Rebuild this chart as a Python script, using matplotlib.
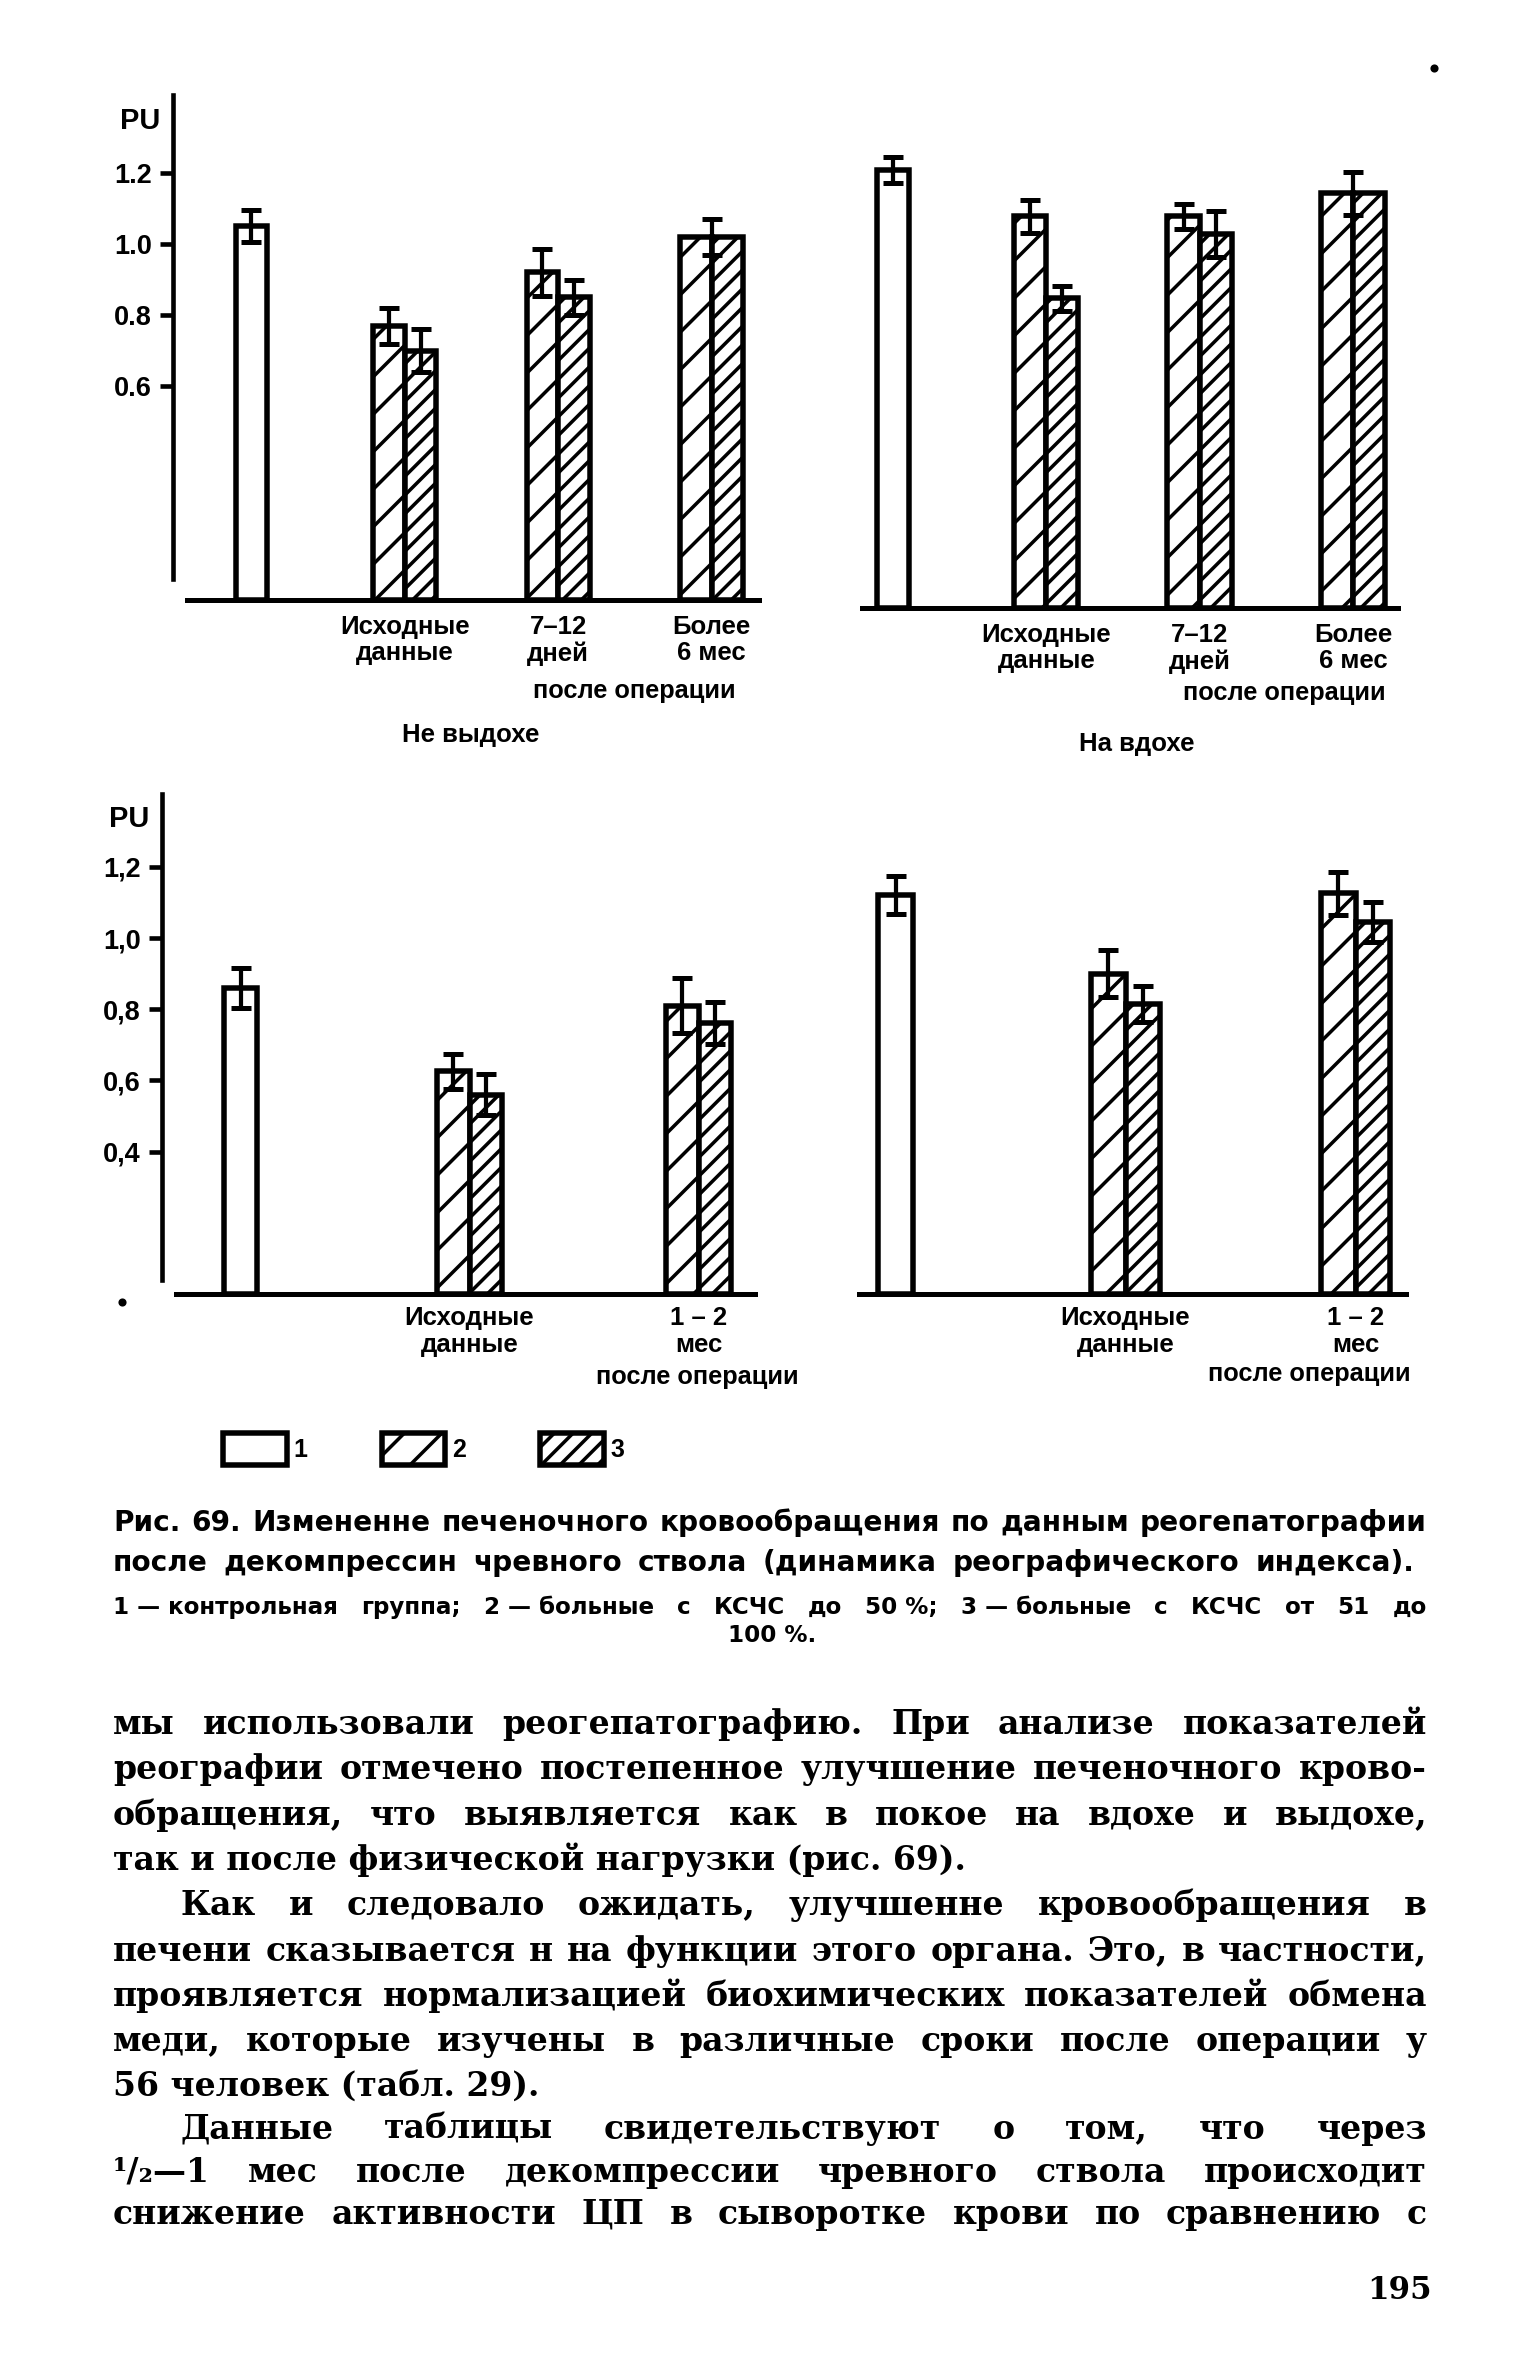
import numpy as np
import matplotlib
matplotlib.use("Agg")
import matplotlib.pyplot as plt

# page size in pixels; at dpi 225 "//" and "////" give the print's hatch spacing
W, H = 1530, 2354
DPI = 225

# ---- values (PU) ----
cat_long = ["Исходные\nданные", "7–12\nдней", "Более\n6 мес"]
cat_short = ["Исходные\nданные", "1 – 2\nмес"]
legend_labels = ["1", "2", "3"]

yticks_top = [0.6, 0.8, 1.0, 1.2]
ylabels_top = ["0.6", "0.8", "1.0", "1.2"]
yticks_bottom = [0.4, 0.6, 0.8, 1.0, 1.2]
ylabels_bottom = ["0,4", "0,6", "0,8", "1,0", "1,2"]

# top left, "Не выдохе"
exh_ctrl = [1.05]
exh_ctrl_err = [0.045]
exh_g2 = [0.77, 0.92, 1.02]
exh_g2_err = [0.05, 0.065, 0.05]
exh_g3 = [0.70, 0.85, 1.02]
exh_g3_err = [0.06, 0.05, np.nan]  # nan -> the pair shares one error bar

# top right, "На вдохе"
inh_ctrl = [1.23]
inh_ctrl_err = [0.037]
inh_g2 = [1.10, 1.10, 1.165]
inh_g2_err = [0.047, 0.035, 0.06]
inh_g3 = [0.87, 1.05, 1.165]
inh_g3_err = [0.035, 0.065, np.nan]

# bottom left
bl_ctrl = [0.86]
bl_ctrl_err = [0.057]
bl_g2 = [0.625, 0.81]
bl_g2_err = [0.05, 0.078]
bl_g3 = [0.56, 0.76]
bl_g3_err = [0.058, 0.059]

# bottom right
br_ctrl = [1.12]
br_ctrl_err = [0.053]
br_g2 = [0.90, 1.125]
br_g2_err = [0.065, 0.06]
br_g3 = [0.815, 1.045]
br_g3_err = [0.05, 0.055]

caption_lines = [
    "Рис. 69. Измененне печеночного кровообращения по данным реогепатографии",
    "после декомпрессин чревного ствола (динамика реографического индекса).",
]
note_lines = [
    "1\u00a0—\u00a0контрольная группа; 2\u00a0—\u00a0больные с КСЧС до 50\u00a0%; "
    "3\u00a0—\u00a0больные с КСЧС от 51 до",
    "100 %.",
]
# (text, indented, justified)
body_lines = [
    ("мы использовали реогепатографию. При анализе показателей", False, True),
    ("реографии отмечено постепенное улучшение печеночного крово-", False, True),
    ("обращения, что выявляется как в покое на вдохе и выдохе,", False, True),
    ("так и после физической нагрузки (рис. 69).", False, False),
    ("Как и следовало ожидать, улучшенне кровообращения в", True, True),
    ("печени сказывается н на функции этого органа. Это, в частности,", False, True),
    ("проявляется нормализацией биохимических показателей обмена", False, True),
    ("меди, которые изучены в различные сроки после операции у", False, True),
    ("56 человек (табл. 29).", False, False),
    ("Данные таблицы свидетельствуют о том, что через", True, True),
    ("¹/₂—1 мес после декомпрессии чревного ствола происходит", False, True),
    ("снижение активности ЦП в сыворотке крови по сравнению с", False, True),
]
page_number = "195"


def pt(px):
    # sizes below are thought of in output pixels
    return px * 72.0 / DPI


plt.rcParams["font.family"] = ["Liberation Sans", "DejaVu Sans"]
plt.rcParams["font.weight"] = "bold"
plt.rcParams["hatch.linewidth"] = pt(3.5)
plt.rcParams["hatch.color"] = "black"

SANS = ["DejaVu Sans"]
SERIF = ["DejaVu Serif", "Liberation Serif"]
UNIT_Y = 356.0  # px per 1.0 PU
LW = pt(5.5)

fig = plt.figure(figsize=(W / DPI, (H + 0.01) / DPI), dpi=DPI, facecolor="white")


def fx(x):
    return x / W


def fy(y):
    return 1 - y / H


def make_axes(x0, unit, base, left, right, top, xspan, yspan=None):
    ax = fig.add_axes([fx(left), fy(base), (right - left) / W, (base - top) / H])
    ax.set_xlim((left - x0) / unit, (right - x0) / unit)
    ax.set_ylim(0, (base - top) / UNIT_Y)
    ax.patch.set_alpha(0)
    for s in ("top", "right"):
        ax.spines[s].set_visible(False)
    ax.spines["bottom"].set_linewidth(pt(5))
    ax.spines["bottom"].set_bounds((xspan[0] - x0) / unit, (xspan[1] - x0) / unit)
    if yspan is None:
        ax.spines["left"].set_visible(False)
        ax.set_yticks([])
    else:
        ax.spines["left"].set_linewidth(pt(4.6))
        ax.spines["left"].set_bounds((base - yspan[1]) / UNIT_Y, (base - yspan[0]) / UNIT_Y)
    return ax


def draw_panel(ax, ctrl, ctrl_err, g2, g2_err, g3, g3_err, cats, width, pad):
    xg = np.arange(1, len(g2) + 1)
    kw = dict(width=width, color="white", edgecolor="black", linewidth=LW, zorder=2)
    h1 = ax.bar([0], ctrl, **kw)
    h2 = ax.bar(xg - width / 2, g2, hatch="//", **kw)
    h3 = ax.bar(xg + width / 2, g3, hatch="////", **kw)
    eb = dict(fmt="none", ecolor="black", elinewidth=pt(4.2), capsize=pt(10),
              capthick=pt(5), zorder=3)
    ax.errorbar([0], ctrl, yerr=ctrl_err, **eb)
    g3_err = np.asarray(g3_err, dtype=float)
    shared = np.isnan(g3_err)
    ax.errorbar(np.where(shared, xg, xg - width / 2), g2, yerr=g2_err, **eb)
    ax.errorbar((xg + width / 2)[~shared], np.asarray(g3)[~shared],
                yerr=g3_err[~shared], **eb)
    ax.set_xticks(xg, cats)
    ax.tick_params(axis="x", length=0, pad=pt(pad), labelsize=pt(25.8))
    for t in ax.get_xticklabels():
        t.set_linespacing(1.15)
    return h1, h2, h3


def set_yaxis(ax, ticks, labels):
    ax.set_yticks(ticks, labels)
    ax.tick_params(axis="y", direction="out", length=pt(13), width=pt(4.6),
                   pad=pt(8), labelsize=pt(27))


# ---- the four bar panels ----
ax1 = make_axes(251.4, 153.4, 600, 173, 780, 85, (187, 759), (95, 579))
h1, h2, h3 = draw_panel(ax1, exh_ctrl, exh_ctrl_err, exh_g2, exh_g2_err,
                        exh_g3, exh_g3_err, cat_long, 0.205, 14.6)
set_yaxis(ax1, yticks_top, ylabels_top)

ax2 = make_axes(893, 153.3, 608, 850, 1420, 85, (862, 1398))
draw_panel(ax2, inh_ctrl, inh_ctrl_err, inh_g2, inh_g2_err,
           inh_g3, inh_g3_err, cat_long, 0.21, 14.6)

ax3 = make_axes(240.5, 229, 1294, 162, 780, 780, (176, 755), (794, 1280))
draw_panel(ax3, bl_ctrl, bl_ctrl_err, bl_g2, bl_g2_err,
           bl_g3, bl_g3_err, cat_short, 0.14, 11.7)
set_yaxis(ax3, yticks_bottom, ylabels_bottom)

ax4 = make_axes(895.5, 230, 1294, 845, 1420, 780, (859, 1406))
draw_panel(ax4, br_ctrl, br_ctrl_err, br_g2, br_g2_err,
           br_g3, br_g3_err, cat_short, 0.15, 11.7)

# axis units and panel captions
for x, y in [(140, 121), (129, 819)]:
    fig.text(fx(x), fy(y), "PU", fontsize=pt(29), ha="center", va="center")
for x, y in [(634, 691), (1284, 693), (697, 1377), (1309, 1374)]:
    fig.text(fx(x), fy(y), "после операции", fontsize=pt(25.4), ha="center", va="center")
fig.text(fx(471), fy(735), "Не выдохе", fontsize=pt(25.8), ha="center", va="center")
fig.text(fx(1137), fy(744), "На вдохе", fontsize=pt(25.8), ha="center", va="center")

# scan specks
for x, y in [(1434, 68), (122, 1302)]:
    fig.add_artist(plt.Line2D([fx(x)], [fy(y)], marker="o", ms=pt(5), color="black",
                              transform=fig.transFigure))

fig.legend([h1, h2, h3], legend_labels, loc="center left",
           bbox_to_anchor=(fx(223), fy(1449)), ncol=3, frameon=False,
           fontsize=pt(25), handlelength=2.55, handleheight=1.65, handletextpad=0.28,
           columnspacing=2.95, borderpad=0, borderaxespad=0)

# ---- caption and page text ----
renderer = fig.canvas.get_renderer()


def put_line(text, x0, x1, y, size, family, justify):
    words = text.split(" ")
    if not justify or len(words) == 1:
        fig.text(fx(x0), fy(y), text, fontsize=pt(size), family=family,
                 ha="left", va="center")
        return
    arts = [fig.text(0, fy(y), w, fontsize=pt(size), family=family, ha="left",
                     va="center") for w in words]
    widths = [a.get_window_extent(renderer).width for a in arts]
    gap = (x1 - x0 - sum(widths)) / (len(words) - 1)
    x = x0
    for a, w in zip(arts, widths):
        a.set_x(fx(x))
        x += w + gap


def fitting_size(lines, width, size, family, min_gap=0.3):
    # shrink the font if a justified line would not leave room between words
    best = size
    for text in lines:
        words = text.split(" ")
        t = fig.text(0, 0, "".join(words), fontsize=pt(size), family=family)
        need = t.get_window_extent(renderer).width + min_gap * size * (len(words) - 1)
        t.remove()
        best = min(best, size * width / need)
    return best


cap_size = fitting_size(caption_lines, 1300, 28, SANS, 0.3)
put_line(caption_lines[0], 113, 1427, 1523, cap_size, SANS, True)
put_line(caption_lines[1], 113, 1414, 1563, cap_size, SANS, True)
note_size = fitting_size(note_lines[:1], 1314, 23, SANS, 0.6)
put_line(note_lines[0], 113, 1427, 1607, note_size, SANS, True)
fig.text(fx(772), fy(1635), note_lines[1], fontsize=pt(note_size), family=SANS,
         ha="center", va="center")

body_size = fitting_size([t for t, ind, j in body_lines if j and not ind], 1314, 33, SERIF)
body_y = [1724, 1769, 1815, 1860, 1905, 1951, 1996, 2041, 2086, 2129, 2172, 2214]
for (text, indent, just), y in zip(body_lines, body_y):
    put_line(text, 180 if indent else 113, 1427, y, body_size, SERIF, just)

fig.text(fx(1432), fy(2290), page_number, fontsize=pt(31), family=SERIF,
         ha="right", va="center")

fig.savefig("out.png", dpi=DPI, facecolor="white")
